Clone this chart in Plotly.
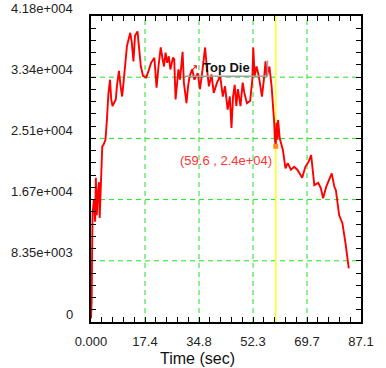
import plotly.graph_objects as go

# Data
time_sec = [0.0, 0.22, 0.4, 0.53, 0.93, 1.34, 1.56, 1.87, 2.18, 2.58, 2.8, 3.11, 3.64, 4.04, 4.67,
            5.13, 5.6, 6.13, 6.53, 6.94, 8.0, 8.4, 9.02, 9.55, 10.05, 10.58, 11.6, 12.66, 13.16,
            13.69, 14.2, 15.0, 15.55, 16.08, 16.8, 17.82, 18.57, 19.38, 20.44, 21.15, 21.77,
            22.49, 23.02, 23.55, 24.05, 24.57, 25.1, 25.6, 26.44, 26.85, 27.28, 27.69, 28.21,
            28.71, 29.55, 29.96, 30.8, 31.32, 31.82, 32.66, 33.38, 34.44, 35.15, 35.99, 36.8,
            37.33, 38.04, 38.88, 39.6, 40.65, 41.68, 42.52, 43.24, 44.08, 44.79, 45.32, 45.82,
            46.35, 46.88, 47.38, 48.22, 48.93, 49.46, 50.3, 51.33, 52.04, 52.35, 52.79, 53.41,
            54.13, 55.15, 55.9, 56.3, 56.7, 57.55, 58.26, 58.79, 59.1, 59.32, 59.6, 59.88, 60.13,
            60.35, 60.88, 61.9, 62.74, 63.46, 64.49, 65.54, 66.57, 68.12, 69.15, 70.2, 71.02,
            72.04, 73.3, 74.13, 74.88, 75.9, 77.67, 78.48, 79.0, 80.04, 81.1, 82.12, 83.15]
force = [500, 2970, 11200, 14900, 16700, 13700, 19700, 14600, 17400, 19100, 14200, 18000, 24000,
         24200, 24900, 27600, 31100, 33100, 30400, 29500, 30400, 32400, 34300, 32200, 30800, 33100,
         37700, 39500, 38200, 35600, 39100, 39700, 37700, 34900, 33600, 33400, 34300, 35400, 36100,
         32000, 34900, 37500, 36100, 34900, 36800, 35400, 36300, 34500, 36100, 35900, 30400, 32700,
         34500, 33100, 36900, 32700, 29900, 32200, 33600, 34500, 33100, 34000, 31800, 34500, 37500,
         34900, 32200, 33800, 31300, 32700, 33600, 30800, 32200, 29000, 30800, 26500, 30800, 32400,
         29500, 31800, 29500, 32700, 31300, 29900, 30200, 33100, 37500, 33600, 34900, 33600, 30800,
         33600, 35600, 33600, 34900, 32200, 29500, 27200, 24900, 24000, 27200, 24900, 27600, 25100,
         23500, 21000, 21700, 20800, 21200, 20800, 19700, 21200, 21900, 22800, 18700, 19000, 18300,
         16900, 18500, 20300, 18500, 18000, 14600, 13500, 10700, 7320]

x_tickvals = [0, 17.42, 34.84, 52.26, 69.68, 87.1]
x_ticktext = ["0.000", "17.4", "34.8", "52.3", "69.7", "87.1"]
y_tickvals = [0, 8360, 16720, 25080, 33440, 41800]
y_ticktext = ["0", "8.35e+003", "1.67e+004", "2.51e+004", "3.34e+004", "4.18e+004"]

cursor_t = [59.6]
cursor_v = [24000]
series_name = "Top Die"

font_family = "Liberation Sans, Arial, sans-serif"
grid_color = "#22e022"

fig = go.Figure()

# Dashed green grid lines at the tick positions (inner ones only)
for xv in x_tickvals[1:-1]:
    fig.add_shape(type="line", xref="x", yref="paper", x0=xv, x1=xv, y0=0, y1=1,
                  line=dict(color=grid_color, width=1, dash="5px,4px"), layer="below")
for yv in y_tickvals[1:-1]:
    fig.add_shape(type="line", xref="paper", yref="y", x0=0, x1=1, y0=yv, y1=yv,
                  line=dict(color=grid_color, width=1, dash="5px,4px"), layer="below")

fig.add_shape(type="line", xref="x", yref="paper", x0=cursor_t[0], x1=cursor_t[0], y0=0, y1=1,
              line=dict(color="#ffff22", width=1.6), layer="below")

fig.add_trace(go.Scatter(x=time_sec, y=force, mode="lines", name=series_name,
                         line=dict(color="#ff0000", width=1.9), showlegend=False))
fig.add_trace(go.Scatter(x=cursor_t, y=cursor_v, mode="markers",
                         marker=dict(color="#ff8c1a", size=5, symbol="square"),
                         showlegend=False))

# Legend-like label with shadow edges
fig.add_shape(type="line", xref="paper", yref="paper", x0=(188 - 91) / 280, x1=(274 - 91) / 280,
              y0=(321.7 - 76.7) / 305, y1=(321.7 - 76.7) / 305, line=dict(color="#a0a0a0", width=1.5))
fig.add_shape(type="line", xref="paper", yref="paper", x0=(274 - 91) / 280, x1=(274 - 91) / 280,
              y0=(321.7 - 76.7) / 305, y1=(321.7 - 61) / 305, line=dict(color="#a0a0a0", width=1.5))
fig.add_annotation(xref="paper", yref="paper", x=(231 - 91) / 280, y=(321.7 - 68) / 305,
                   text="<b>" + series_name + "</b>", showarrow=False, xanchor="center", yanchor="middle",
                   font=dict(family=font_family, size=13, color="#111111"))
fig.add_annotation(xref="paper", yref="paper", x=(197 - 91) / 280, y=(321.7 - 69) / 305,
                   text="↗", showarrow=False, xanchor="center", yanchor="middle",
                   font=dict(family="DejaVu Sans", size=11, color="#ff0000"))

fig.add_annotation(x=cursor_t[0], y=cursor_v[0], text="(%.1f , %.1e)" % (cursor_t[0], cursor_v[0]),
                   showarrow=False, xanchor="center", yanchor="middle", xshift=-50, yshift=-14,
                   font=dict(family=font_family, size=13, color="#ff3333"))

for v, t in zip(y_tickvals, y_ticktext):
    fig.add_annotation(xref="paper", yref="y", x=0, y=v, text=t, showarrow=False,
                       xanchor="right", yanchor="middle", xshift=-16, yshift=8,
                       font=dict(family=font_family, size=13, color="#222222"))

fig.add_annotation(xref="paper", yref="paper", x=(201 - 91) / 280, y=0, yshift=-36,
                   text="Time (sec)", showarrow=False, xanchor="center", yanchor="middle",
                   font=dict(family=font_family, size=16, color="#111111"))

fig.update_xaxes(range=[0, 87.1], tickvals=x_tickvals, ticktext=x_ticktext,
                 showgrid=False,
                 showline=True, linecolor="black", linewidth=2, mirror="allticks",
                 ticks="inside", ticklen=5, tickcolor="black", zeroline=False,
                 ticklabelstandoff=6,
                 minor=dict(dtick=17.42 / 5, tick0=0, ticks="inside", ticklen=5, tickcolor="black",
                            showgrid=False),
                 tickfont=dict(family=font_family, size=13, color="#222222"))
fig.update_yaxes(range=[0, 41800], tickvals=y_tickvals, showticklabels=False,
                 showgrid=False,
                 showline=True, linecolor="black", linewidth=2, mirror="allticks",
                 ticks="inside", ticklen=5, tickcolor="black", zeroline=False,
                 minor=dict(dtick=8360 / 5, tick0=0, ticks="inside", ticklen=5, tickcolor="black",
                            showgrid=False))

fig.update_layout(width=386, height=368, margin=dict(l=91, r=15, t=16, b=46),
                  plot_bgcolor="white", paper_bgcolor="white", showlegend=False)

fig.write_html("out.html")
